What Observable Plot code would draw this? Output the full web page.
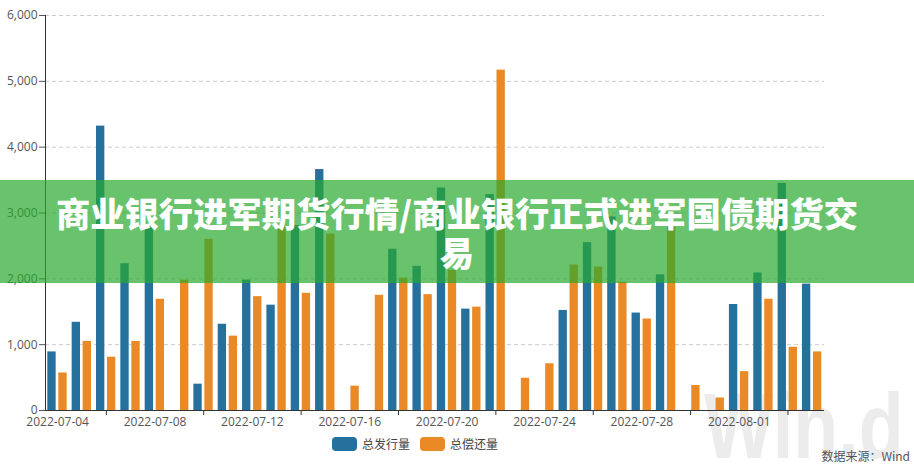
<!DOCTYPE html>
<html>
<head>
<meta charset="utf-8">
<script src="https://cdn.jsdelivr.net/npm/d3@7"></script>
<script src="https://cdn.jsdelivr.net/npm/@observablehq/plot@0.6"></script>
<style>
  html, body { margin: 0; padding: 0; background: #fff; }
  #wrap { position: relative; width: 914px; height: 465px; overflow: hidden; background: #fff; }
  #chart { position: absolute; left: 0; top: 0; z-index: 1; }
  #watermark { position: absolute; left: 704px; top: 380px; z-index: 0; font-family: "Liberation Sans", Arial, sans-serif; font-weight: bold; font-size: 92px; line-height: 92px; color: #ececec; transform: scaleX(0.8); transform-origin: left top; white-space: nowrap; }
  #legend { position: absolute; left: 332px; top: 435px; z-index: 1; display: flex; align-items: center; font-family: "Noto Sans CJK SC", sans-serif; font-size: 12px; color: #444; }
  #legend .item { display: flex; align-items: center; margin-right: 10px; }
  #legend .sw { width: 25px; height: 14px; border-radius: 4px; margin-right: 5px; }
  #source { position: absolute; right: 4px; top: 447px; z-index: 1; font-family: "Noto Sans CJK SC", sans-serif; font-size: 12px; color: #555; }
  #banner { position: absolute; left: 0; top: 180px; width: 914px; height: 103px; z-index: 3; background: rgba(40,170,45,0.7); display: flex; align-items: center; justify-content: center; text-align: center; color: #fff; font-family: "Noto Sans CJK SC", sans-serif; font-weight: 900; font-size: 34.3px; line-height: 39px; }
</style>
</head>
<body>
<div id="wrap">
  <div id="watermark">Win.d</div>
  <div id="chart"></div>
  <div id="legend"></div>
  <div id="source">数据来源：Wind</div>
  <div id="banner"><div>商业银行进军期货行情/商业银行正式进军国债期货交<br>易</div></div>
</div>
<script>
const dates = [
  "2022-07-04","2022-07-05","2022-07-06","2022-07-07","2022-07-08","2022-07-09","2022-07-10","2022-07-11",
  "2022-07-12","2022-07-13","2022-07-14","2022-07-15","2022-07-16","2022-07-17","2022-07-18","2022-07-19",
  "2022-07-20","2022-07-21","2022-07-22","2022-07-23","2022-07-24","2022-07-25","2022-07-26","2022-07-27",
  "2022-07-28","2022-07-29","2022-07-30","2022-07-31","2022-08-01","2022-08-02","2022-08-03","2022-08-04"
];
const issue = [890, 1340, 4320, 2230, 2790, null, 400, 1310, 1980, 1600, 2810, 3660, null, null, 2450, 2190,
               3380, 1540, 3280, null, null, 1520, 2550, 2940, 1480, 2060, null, null, 1610, 2090, 3450, 1920];
const repay = [570, 1050, 810, 1050, 1690, 1980, 2600, 1130, 1730, 2790, 1780, 2680, 370, 1750, 2010, 1760,
               2130, 1570, 5170, 490, 710, 2210, 2180, 1950, 1390, 2790, 380, 190, 590, 1690, 960, 890];
const seriesNames = ["总发行量", "总偿还量"];
const seriesColors = ["#26709e", "#ea8a27"];
const yTicks = [0, 1000, 2000, 3000, 4000, 5000, 6000];
const labelDates = ["2022-07-04","2022-07-08","2022-07-12","2022-07-16","2022-07-20","2022-07-24","2022-07-28","2022-08-01"];
const tickDates = ["2022-07-06","2022-07-10","2022-07-14","2022-07-18","2022-07-22","2022-07-26","2022-07-30","2022-08-03"];

const rows = dates.map((d, i) => ({date: d, issue: issue[i], repay: repay[i]}));

const chart = Plot.plot({
  width: 914,
  height: 434,
  marginLeft: 45,
  marginRight: 90,
  marginTop: 15,
  marginBottom: 24,
  style: {background: "transparent", fontFamily: "'Open Sans', sans-serif", fontSize: "12px", color: "#555"},
  x: {type: "band", domain: dates, padding: 0, round: false, axis: null, label: null},
  y: {domain: [0, 6000], axis: null, label: null},
  marks: [
    Plot.gridY(yTicks.filter(d => d > 0), {stroke: "#cccccc", strokeOpacity: 1, strokeDasharray: "4,3"}),
    Plot.barY(rows.filter(r => r.issue != null), {x: "date", y: "issue", fill: seriesColors[0], insetLeft: 2.3, insetRight: 13.7}),
    Plot.barY(rows.filter(r => r.repay != null), {x: "date", y: "repay", fill: seriesColors[1], insetLeft: 13.3, insetRight: 2.7}),
    Plot.axisY(yTicks, {tickSize: 6, tickPadding: 2, tickFormat: d3.format(","), color: "#555", fontSize: 12, label: null}),
    Plot.axisX(tickDates, {tickSize: 5, text: null, stroke: "#333", label: null}),
    Plot.axisX(labelDates, {tickSize: 0, tickPadding: 7, color: "#555", fontSize: 12, label: null}),
    Plot.ruleY([0], {stroke: "#333"}),
    Plot.frame({anchor: "left", stroke: "#333"})
  ]
});
document.getElementById("chart").appendChild(chart);

const legend = document.getElementById("legend");
seriesNames.forEach((n, i) => {
  const item = document.createElement("div");
  item.className = "item";
  const sw = document.createElement("div");
  sw.className = "sw";
  sw.style.background = seriesColors[i];
  const t = document.createElement("span");
  t.textContent = n;
  item.appendChild(sw);
  item.appendChild(t);
  legend.appendChild(item);
});
</script>
</body>
</html>
